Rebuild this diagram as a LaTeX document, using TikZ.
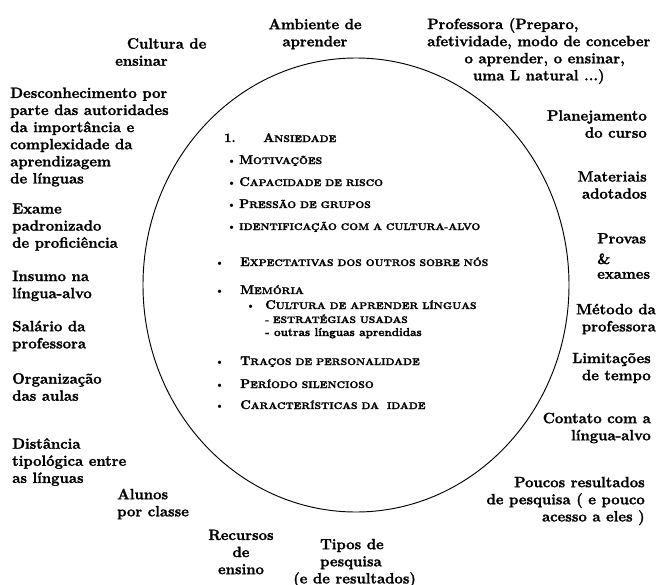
\documentclass[tikz,border=0pt]{standalone}
\usepackage{fontspec}
\setmainfont{Latin Modern Roman}[BoldFeatures={FakeBold=1.6}]
\usepackage{tikz}

% small caps made by hand: big first letter, the rest smaller
\newcommand{\caps}[2]{{\fontsize{10.8}{13}\selectfont #1}{\fontsize{8.2}{10}\selectfont #2}}

\begin{document}
\begin{tikzpicture}[x=0.03cm, y=-0.03cm,
  lbl/.style={font=\fontsize{12.7}{14.6}\selectfont\bfseries, inner sep=0pt},
  lblL/.style={lbl, align=left, anchor=west},
  lblR/.style={lbl, align=right, anchor=east},
  lblC/.style={lbl, align=center},
  item/.style={font=\bfseries, inner sep=0pt, anchor=base west},
  dot/.style={font=\fontsize{10}{12}\selectfont, inner sep=0pt, anchor=base west}]
\useasboundingbox (0,0) rectangle (665,585);
\draw[line width=0.8pt] (356,285) ellipse [x radius=6.39cm, y radius=6.81cm];

% around the circle
\node[lblL] (cultura) at (115,52) {\hspace*{10pt}Cultura de\\ensinar};
\node[lblC] (ambiente) at (315,34) {Ambiente de\\aprender};
\node[lblC, anchor=west] (profa) at (427,51) {\rlap{Professora (Preparo,}\hphantom{afetividade, modo de conceber}\\afetividade, modo de conceber\\\hspace*{10pt}o aprender, o ensinar,\\uma L natural ...)};
\node[lblL] (desc) at (10,137) {Desconhecimento por\\parte das autoridades\\da importância e\\complexidade da\\aprendizagem\\de línguas};
\node[lblL] (exame) at (12,227) {Exame\\padronizado\\de proficiência};
\node[lblL] (insumo) at (12,286) {Insumo na\\língua-alvo};
\node[lblL] (salario) at (12,336) {Salário da\\professora};
\node[lblL] (organiz) at (12,387) {Organização\\das aulas};
\node[lblL] (dist) at (12,462) {Distância\\tipológica entre\\as línguas};
\node[lblL] (alunos) at (117,504) {Alunos\\por classe};
\node[lblC] (recursos) at (241,552) {Recursos\\de\\ensino};
\node[lblL] (tipos) at (293,563) {\hspace*{23pt}Tipos de\\\hspace*{23pt}pesquisa\\(e de resultados)};
\node[lblR] (planej) at (647,124) {Planejamento\\do curso};
\node[lblR] (materiais) at (647,185) {Materiais\\adotados};
\node[lblL] (provas) at (597,256) {Provas\\[3pt]\&\\[-2pt]exames};
\node[lblR] (metodo) at (656,319) {Método da\\professora};
\node[lblR] (limit) at (651,368) {Limitações\\de tempo};
\node[lblR] (contato) at (651,428) {Contato com a\\língua-alvo};
\node[lblR] (poucos) at (645,501) {Poucos resultados\\de pesquisa (\ e pouco\\acesso a eles )};

% inside the circle
\node[item] (num) at (224,142) {\fontsize{10.8}{13}\selectfont 1.};
\node[item] (ans) at (263,142) {\caps{A}{NSIEDADE}};
\foreach \y/\nm/\t in {164/mot/{\caps{M}{OTIVAÇÕES}},
                       186/cap/{\caps{C}{APACIDADE DE RISCO}},
                       208/pres/{\caps{P}{RESSÃO DE GRUPOS}},
                       230/ident/{\caps{}{IDENTIFICAÇÃO COM A CULTURA-ALVO}}}
  {\node[dot] (b\nm) at (227,\y) {\textbullet};
   \node[item] (\nm) at (239,\y) {\t};}
\foreach \y/\nm/\t in {266/expec/{\caps{E}{XPECTATIVAS DOS OUTROS SOBRE NÓS}},
                       294/mem/{\caps{M}{EMÓRIA}},
                       365/tracos/{\caps{T}{RAÇOS DE PERSONALIDADE}},
                       388/period/{\caps{P}{ERÍODO SILENCIOSO}},
                       409/caract/{\caps{C}{ARACTERÍSTICAS DA\ \ IDADE}}}
  {\node[dot] (b\nm) at (215,\y) {\textbullet};
   \node[item] (\nm) at (240,\y) {\t};}
\node[dot] (bcult) at (246,309) {\textbullet};
\node[item] (cult) at (265,309) {\caps{C}{ULTURA DE APRENDER LÍNGUAS}};
\node[item] (estr) at (265,323) {\fontsize{8.1}{10}\selectfont - ESTRATÉGIAS USADAS};
\node[item] (outras) at (265,336) {\fontsize{9.8}{12}\selectfont - outras línguas aprendidas};
\end{tikzpicture}
\end{document}
